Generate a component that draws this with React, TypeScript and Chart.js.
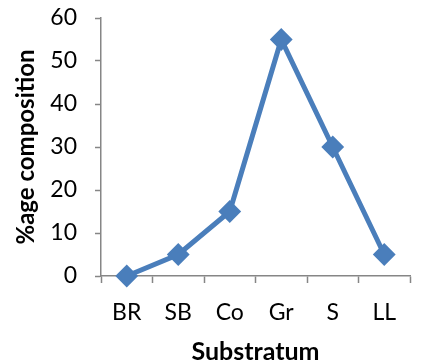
import React, { useEffect, useRef } from "react";
import { Chart, registerables } from "chart.js";

Chart.register(...registerables);

const categories = ["BR", "SB", "Co", "Gr", "S", "LL"];
const composition = [0, 5, 15, 55, 30, 5];
const yTitle = "%age composition";
const xTitle = "Substratum";

export default function App() {
  const ref = useRef<HTMLCanvasElement>(null);
  useEffect(() => {
    const canvas = ref.current;
    if (!canvas) return;
    const font = "Lato";
    const axisColor = "#868686";
    const chart = new Chart(canvas, {
      type: "line",
      data: {
        labels: categories,
        datasets: [
          {
            data: composition,
            borderColor: "#4a7ebb",
            backgroundColor: "#4a7ebb",
            borderWidth: 5,
            pointStyle: "rectRot",
            pointRadius: 10,
            pointBorderWidth: 2,
            tension: 0,
            clip: false as any,
          },
        ],
      },
      options: {
        animation: false,
        responsive: false,
        devicePixelRatio: 1,
        layout: { padding: { top: 18, right: 7, left: 0, bottom: 0 } },
        plugins: { legend: { display: false }, tooltip: { enabled: false } },
        scales: {
          x: {
            type: "category",
            offset: true,
            grid: {
              offset: true,
              drawOnChartArea: false,
              tickLength: 7,
              color: axisColor,
              tickWidth: 1.5,
            },
            border: { color: axisColor, width: 1.5 },
            ticks: {
              color: "#000",
              font: { family: font, size: 23 },
              padding: 16,
              maxRotation: 0,
            },
            title: {
              display: true,
              text: xTitle,
              color: "#000",
              font: { family: font, size: 25, weight: "bold" },
              padding: { top: 10, bottom: -3 },
            },
            afterFit: (s: any) => {
              s.height = 88;
              s.paddingLeft = 0;
              s.paddingRight = 0;
            },
          },
          y: {
            min: 0,
            max: 60,
            grid: {
              drawOnChartArea: false,
              tickLength: 6,
              color: axisColor,
              tickWidth: 1.5,
            },
            border: { color: axisColor, width: 1.5 },
            ticks: {
              stepSize: 10,
              color: "#000",
              font: { family: font, size: 23 },
              padding: 18,
            },
            title: {
              display: true,
              text: yTitle,
              color: "#000",
              font: { family: font, size: 24, weight: "bold" },
              padding: { top: 12, bottom: 0 },
            },
            afterFit: (s: any) => {
              s.width = 101;
              s.paddingTop = 0;
              s.paddingBottom = 0;
            },
          },
        },
      },
    });
    return () => chart.destroy();
  }, []);
  return (
    <div style={{ position: "absolute", left: 0, top: 0, width: 422, height: 364, background: "#fff" }}>
      <canvas ref={ref} width={422} height={364} />
    </div>
  );
}
